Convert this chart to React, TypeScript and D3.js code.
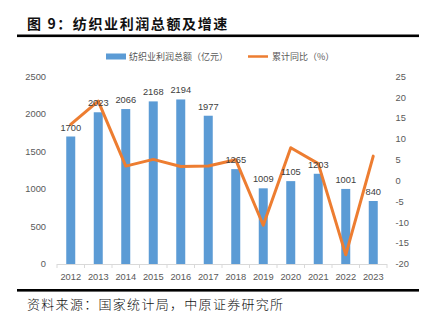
import React from "react";
import * as d3 from "d3";

const years = ["2012","2013","2014","2015","2016","2017","2018","2019","2020","2021","2022","2023"];
const profit = [1700, 2023, 2066, 2168, 2194, 1977, 1265, 1009, 1105, 1203, 1001, 840];
const growth = [13.5, 19.1, 3.5, 5.1, 3.4, 3.5, 5.0, -10.7, 7.9, 4.1, -17.8, 5.9];
const leftTicks = [0, 500, 1000, 1500, 2000, 2500];
const rightTicks = [-20, -15, -10, -5, 0, 5, 10, 15, 20, 25];

const W = 437, H = 324;
const plotL = 57, plotR = 387, plotT = 76.5, plotB = 264;

export default function App() {
  const x = d3.scaleBand<string>().domain(years).range([plotL, plotR]);
  const yL = d3.scaleLinear().domain([0, 2500]).range([plotB, plotT]);
  const yR = d3.scaleLinear().domain([-20, 25]).range([plotB, plotT]);
  const barW = 9;
  const cx = (y: string) => (x(y) as number) + x.bandwidth() / 2;
  const line = d3.line<number>().x((_, i) => cx(years[i])).y((d) => yR(d));
  const font = "'Liberation Sans', Arial, 'Noto Sans CJK SC', sans-serif";
  const cjk = "'Noto Sans CJK SC', sans-serif";
  const fs = 9.3;

  return (
    <svg width={W} height={H} style={{ position: "absolute", left: 0, top: 0, background: "#fff" }}>
      <rect x={0} y={0} width={W} height={H} fill="#fff" />
      <text x={27} y={29} fontFamily={cjk} fontWeight={700} fontSize={14} letterSpacing={1.6} fill="#111">
        图 9：纺织业利润总额及增速
      </text>
      <rect x={17} y={34.5} width={402} height={2.6} fill="#000" />

      {/* legend */}
      <rect x={106} y={53.5} width={20} height={6} fill="#5B9BD5" />
      <text x={129} y={60} fontFamily={cjk} fontSize={9} fill="#595959">纺织业利润总额（亿元）</text>
      <line x1={248} x2={268} y1={56.5} y2={56.5} stroke="#ED7D31" strokeWidth={2.5} />
      <text x={272} y={60} fontFamily={cjk} fontSize={9} fill="#595959">累计同比（%）</text>

      {/* left axis */}
      {leftTicks.map((t) => (
        <text key={"l" + t} x={46} y={yL(t) + 3.3} textAnchor="end" fontFamily={font} fontSize={fs} fill="#595959">{t}</text>
      ))}
      {/* right axis */}
      {rightTicks.map((t) => (
        <text key={"r" + t} x={395.5} y={yR(t) + 3.3} textAnchor="start" fontFamily={font} fontSize={fs} fill="#595959">{t}</text>
      ))}

      {/* bars */}
      {profit.map((v, i) => (
        <rect key={"b" + i} x={cx(years[i]) - barW / 2} y={yL(v)} width={barW} height={plotB - yL(v)} fill="#5B9BD5" />
      ))}

      {/* x axis */}
      <line x1={plotL} x2={plotR} y1={plotB + 0.5} y2={plotB + 0.5} stroke="#D9D9D9" strokeWidth={1} />
      {d3.range(years.length + 1).map((i) => {
        const xx = plotL + i * x.bandwidth();
        return <line key={"t" + i} x1={xx} x2={xx} y1={plotB} y2={plotB + 4} stroke="#D9D9D9" strokeWidth={1} />;
      })}
      {years.map((y) => (
        <text key={"x" + y} x={cx(y)} y={279.5} textAnchor="middle" fontFamily={font} fontSize={fs} fill="#595959">{y}</text>
      ))}

      {/* line */}
      <path d={line(growth) || ""} fill="none" stroke="#ED7D31" strokeWidth={3} strokeLinejoin="round" strokeLinecap="round" />

      {/* data labels */}
      {profit.map((v, i) => (
        <text key={"d" + i} x={cx(years[i])} y={yL(v) - 6} textAnchor="middle" fontFamily={font} fontSize={fs} fill="#404040">{v}</text>
      ))}

      <rect x={17} y={289} width={402} height={2.6} fill="#000" />
      <text x={27} y={309} fontFamily={cjk} fontWeight={300} fontSize={13} letterSpacing={1.3} fill="#111">
        资料来源：国家统计局，中原证券研究所
      </text>
    </svg>
  );
}
